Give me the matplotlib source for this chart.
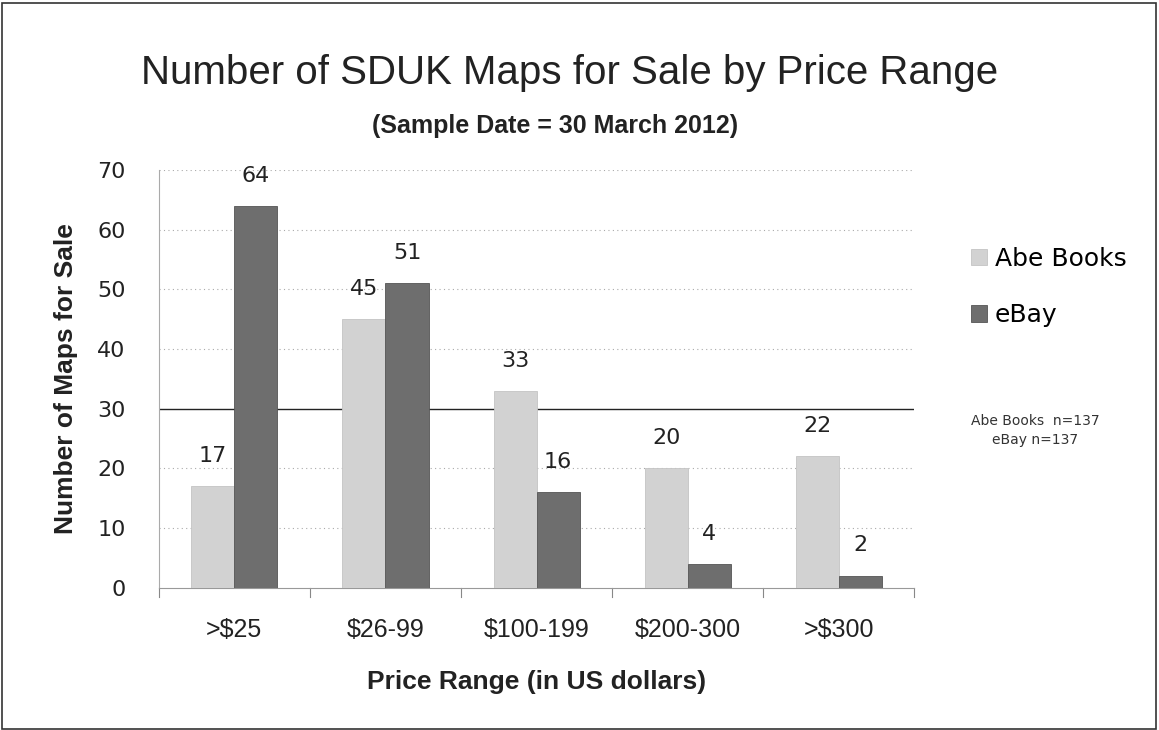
import numpy as np
import matplotlib
matplotlib.use("Agg")
import matplotlib.pyplot as plt
from matplotlib.patches import Rectangle

# price ranges and counts per seller
categories = [">$25", "$26-99", "$100-199", "$200-300", ">$300"]
abe_books = [17, 45, 33, 20, 22]
ebay = [64, 51, 16, 4, 2]
series_names = ["Abe Books", "eBay"]

title_font = ["Liberation Sans", "DejaVu Sans"]

fig = plt.figure(figsize=(11.59, 7.3), dpi=100)
ax = fig.add_axes([0.137, 0.195, 0.652, 0.572])

x = np.arange(len(categories))
w = 0.285
bars1 = ax.bar(x - w / 2, abe_books, w, color="#d2d2d2", edgecolor="#c4c4c4",
               linewidth=0.6, label=series_names[0], zorder=3)
bars2 = ax.bar(x + w / 2, ebay, w, color="#6e6e6e", edgecolor="#555555",
               linewidth=0.6, label=series_names[1], zorder=3)

# value labels above bars
for bars, vals in [(bars1, abe_books), (bars2, ebay)]:
    for b, v in zip(bars, vals):
        ax.text(b.get_x() + b.get_width() / 2, v + 3.4, str(v), ha="center",
                va="bottom", fontsize=16, color="#222222")

ax.set_xlim(-0.5, len(categories) - 0.5)
ax.set_ylim(0, 70)
ax.set_yticks(range(0, 71, 10))
ax.set_xticks(x)
ax.set_xticklabels(categories, fontsize=18, family=title_font)
ax.tick_params(axis="y", labelsize=16, length=0, pad=24, colors="#222222")
ax.tick_params(axis="x", length=0, pad=22, colors="#222222")

# category separator ticks along the bottom
for i in range(len(categories) + 1):
    ax.plot([i - 0.5, i - 0.5], [0, -1.5], color="#888888", lw=0.8,
            clip_on=False, zorder=2)

# dotted gridlines, with a solid line at 30
for y in range(10, 71, 10):
    if y == 30:
        ax.axhline(y, color="#222222", lw=1.0, zorder=2)
    else:
        ax.axhline(y, color="#aaaaaa", lw=0.8, ls=(0, (1, 3)), zorder=1)

for s in ["top", "right"]:
    ax.spines[s].set_visible(False)
ax.spines["left"].set_color("#aaaaaa")
ax.spines["left"].set_linestyle((0, (1, 1)))
ax.spines["bottom"].set_color("#999999")

ax.set_ylabel("Number of Maps for Sale", fontsize=19, fontweight="bold",
              family=title_font, labelpad=14, color="#222222")
ax.set_xlabel("Price Range (in US dollars)", fontsize=19, fontweight="bold",
              family=title_font, labelpad=20, color="#222222")

fig.text(0.491, 0.9, "Number of SDUK Maps for Sale by Price Range",
         ha="center", va="center", fontsize=29, family=title_font,
         color="#222222")
fig.text(0.479, 0.828, "(Sample Date = 30 March 2012)", ha="center",
         va="center", fontsize=18, fontweight="bold", family=title_font,
         color="#222222")

leg = ax.legend(loc="center left", bbox_to_anchor=(1.045, 0.72), frameon=False,
                fontsize=18, handlelength=0.65, handleheight=0.65,
                labelspacing=1.3, handletextpad=0.3)

fig.text(0.893, 0.41, "Abe Books  n=137\neBay n=137", ha="center",
         va="center", fontsize=10, linespacing=1.5, color="#333333")

# border around the whole picture
fig.patches.append(Rectangle((0.002, 0.002), 0.995, 0.994,
                             transform=fig.transFigure, fill=False,
                             edgecolor="#333333", lw=1.2))

fig.savefig("out.png", dpi=100)
